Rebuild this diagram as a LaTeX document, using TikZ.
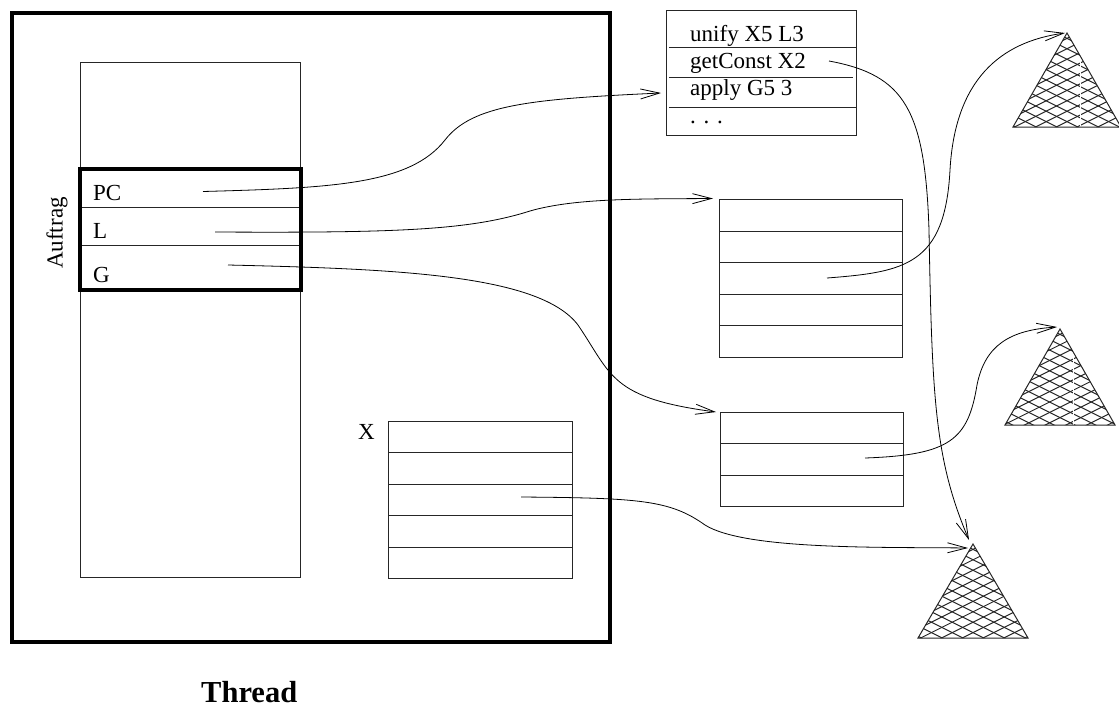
\documentclass[tikz,border=0pt]{standalone}
\usepackage{fontspec}
\setmainfont{Liberation Serif}
\usetikzlibrary{arrows.meta}
\tikzset{
  thin box/.style={draw=black!85,line width=0.8pt,fill=none,inner sep=0pt},
  thick box/.style={draw=black,line width=4pt,fill=none,inner sep=0pt},
  row/.style={draw=black!85,line width=0.8pt},
  lbl/.style={anchor=base west,inner sep=0pt,font=\fontsize{23}{23}\selectfont},
  link/.style={draw=black,line width=0.8pt,-{Straight Barb[length=19pt,width=10pt,line width=0.8pt]}},
  seam/.style={draw=white,line width=0.4pt},
  noseam/.style={draw=none},
}
\newcommand{\hatchtri}[5]{% apex x, apex y, half width, height, seam style
  \begin{scope}
    \clip (#1,#2) -- ({#1-#3},{#2+#4}) -- ({#1+#3},{#2+#4}) -- cycle;
    \foreach \k in {-16,...,16}{
      \draw[black!85,line width=1pt] ({#1-120},{#2+47+\k*10.4-60}) -- ({#1+120},{#2+47+\k*10.4+60});
      \draw[black!85,line width=1pt] ({#1-120},{#2+47+\k*10.4+60}) -- ({#1+120},{#2+47+\k*10.4-60});
    }
    \path[#5] ({#1+13},{#2+10}) -- ({#1+13},{#2+#4});
  \end{scope}
  \draw[black!85,line width=1pt,line join=miter] (#1,#2) -- ({#1-#3},{#2+#4}) -- ({#1+#3},{#2+#4}) -- cycle;
}
\begin{document}
\begin{tikzpicture}[x=1pt,y=-1pt]
\useasboundingbox (0,0) rectangle (1119,707);
% boxes
\node[thin box,minimum width=220pt,minimum height=515pt] (stack) at (190.5,319.5) {};
\node[thin box,minimum width=184pt,minimum height=157pt] (xtab) at (480,499.5) {};
\node[thin box,minimum width=190pt,minimum height=125pt] (code) at (761,72.5) {};
\node[thin box,minimum width=183pt,minimum height=158pt] (ltab) at (810.5,278) {};
\node[thin box,minimum width=183pt,minimum height=94pt] (gtab) at (811.5,459) {};
\foreach \y in {207,245} \draw[row] (80,\y) -- (300,\y);
\foreach \y in {452.5,484,515.5,547} \draw[row] (388,\y) -- (572,\y);
\foreach \y in {47,107} \draw[row] (669,\y) -- (856,\y);
\draw[row] (669,77.5) -- (853,77.5);
\foreach \y in {231,262,294,325} \draw[row] (719,\y) -- (902,\y);
\foreach \y in {443,475} \draw[row] (720,\y) -- (903,\y);
\node[thick box,minimum width=598pt,minimum height=629pt] (thread) at (311,327.5) {};
\node[thick box,minimum width=221pt,minimum height=121pt] (frame) at (190.5,229.5) {};
% triangles
\hatchtri{1067}{33}{54}{94}{seam}
\hatchtri{1060}{329}{55}{96}{seam}
\hatchtri{973}{544}{55}{94}{noseam}
\coordinate (tria) at (1065,33);
\coordinate (trib) at (1057,327);
\coordinate (tric) at (968,548);
\coordinate (trid) at (969,540);
% labels
\node[lbl] (pc) at (93,200) {PC};
\node[lbl] (l) at (93,238) {L};
\node[lbl] (g) at (93,282) {G};
\node[font=\fontsize{23}{23}\selectfont,rotate=90,inner sep=0pt] (auftrag) at (57,233) {Auftrag};
\node[lbl] (xl) at (358,439) {X};
\node[lbl] (c1) at (690,41.5) {unify X5 L3};
\node[lbl] (c2) at (690,68) {getConst X2};
\node[lbl] (c3) at (690,95) {apply G5 3};
\node[lbl] (c4) at (690,123) {.\,\,.\,\,.};
\node[anchor=base west,inner sep=0pt,font=\fontsize{30.5}{30.5}\selectfont\bfseries] (title) at (201,702) {Thread};
% connector ends
\coordinate (spc) at (203,191.5);
\coordinate (sl) at (215,232);
\coordinate (sg) at (228,265);
\coordinate (sx) at (521,497);
\coordinate (sc) at (829,61);
\coordinate (sla) at (827,278);
\coordinate (sga) at (865,458);
\coordinate (ecode) at (661,93);
\coordinate (eltab) at (713,198.5);
\coordinate (egtab) at (716,412);
% connectors
\draw[link] (spc) .. controls (330,188) and (410,185) .. (445,140) .. controls (472,105) and (530,99) .. (ecode);
\draw[link] (sl) .. controls (400,233) and (470,230) .. (530,211) .. controls (575,198) and (640,199) .. (eltab);
\draw[link] (sg) .. controls (400,269) and (540,275) .. (578,325) .. controls (612,375) and (610,398) .. (egtab);
\draw[link] (sx) .. controls (640,498) and (670,500) .. (705,525) .. controls (745,550) and (880,547) .. (tric);
\draw[link] (sc) .. controls (905,75) and (925,110) .. (929,230) .. controls (932,400) and (935,460) .. (trid);
\draw[link] (sla) .. controls (905,272) and (945,265) .. (950,170) .. controls (955,80) and (1000,42) .. (tria);
\draw[link] (sga) .. controls (950,455) and (968,440) .. (977,385) .. controls (985,345) and (1010,330) .. (trib);
\end{tikzpicture}
\end{document}
